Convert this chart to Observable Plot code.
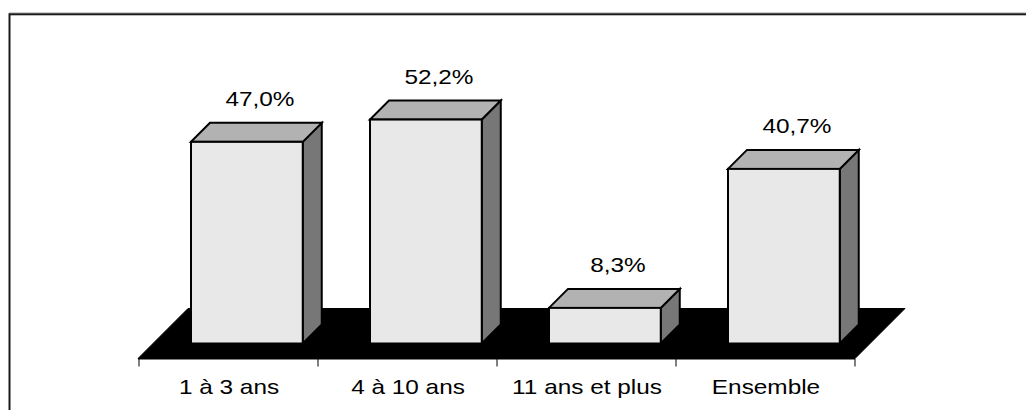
<!DOCTYPE html>
<html><head><meta charset="utf-8">
<script src="https://cdn.jsdelivr.net/npm/d3@7"></script>
<script src="https://cdn.jsdelivr.net/npm/@observablehq/plot@0.6"></script>
<style>
html,body{margin:0;padding:0;background:#fff;overflow:hidden;}
</style></head><body><div id="chart"></div>
<script>
const categories = ["1 à 3 ans", "4 à 10 ans", "11 ans et plus", "Ensemble"];
const values = [47.0, 52.2, 8.3, 40.7];
const valueLabels = ["47,0%", "52,2%", "8,3%", "40,7%"];

const data = categories.map((c, i) => ({category: c, value: values[i], label: valueLabels[i]}));

const DEPTH = 19, LIFT = 15, FLOOR_BACK = 50;
const INSET_L = 52, INSET_R = 15.25;
const TEXT_STRETCH = 1.16;
const NS = "http://www.w3.org/2000/svg";

function poly(g, pts, fill, stroke, sw) {
  const p = document.createElementNS(NS, "polygon");
  p.setAttribute("points", pts.map(d => d.join(",")).join(" "));
  p.setAttribute("fill", fill);
  p.setAttribute("stroke", stroke);
  p.setAttribute("stroke-width", sw);
  p.setAttribute("stroke-linejoin", "miter");
  g.appendChild(p);
}
function line(g, x1, y1, x2, y2, stroke, sw) {
  const l = document.createElementNS(NS, "line");
  l.setAttribute("x1", x1); l.setAttribute("y1", y1);
  l.setAttribute("x2", x2); l.setAttribute("y2", y2);
  l.setAttribute("stroke", stroke); l.setAttribute("stroke-width", sw);
  g.appendChild(l);
}

function floorMark(index, scales) {
  const sx = scales.x, sy = scales.y;
  const g = document.createElementNS(NS, "g");
  const [x0, x1] = sx.range();
  const y0 = sy(0);
  poly(g, [[x0, y0], [x1, y0], [x1 + FLOOR_BACK, y0 - FLOOR_BACK], [x0 + FLOOR_BACK, y0 - FLOOR_BACK]], "#000", "#000", 1);
  const bounds = categories.map(c => sx(c)).concat([x1]);
  for (const b of bounds) line(g, b, y0, b, y0 + 8, "#000", 1);
  return g;
}

function facesMark(index, scales) {
  const sx = scales.x, sy = scales.y;
  const bw = sx.bandwidth();
  const g = document.createElementNS(NS, "g");
  const yb = sy(0) - LIFT;
  data.forEach(d => {
    const xl = sx(d.category) + INSET_L;
    const xr = sx(d.category) + bw - INSET_R;
    const yt = sy(d.value) - LIFT;
    poly(g, [[xr, yt], [xr + DEPTH, yt - DEPTH], [xr + DEPTH, yb - DEPTH], [xr, yb]], "#777777", "#000", 2);
    poly(g, [[xl, yt], [xr, yt], [xr + DEPTH, yt - DEPTH], [xl + DEPTH, yt - DEPTH]], "#b2b2b2", "#000", 2);
  });
  return g;
}

const chart = Plot.plot({
  width: 1026,
  height: 410,
  marginLeft: 138,
  marginRight: 171,
  marginTop: 101.1,
  marginBottom: 51.5,
  style: {fontFamily: "'Liberation Sans', Arial, sans-serif", fontSize: "21px", background: "#fff", color: "#000"},
  x: {domain: categories, padding: 0, axis: null},
  y: {domain: [0, 60], axis: null},
  marks: [
    Plot.frame({stroke: "#a0a0a0", strokeWidth: 1, insetLeft: -129, insetTop: -88.6, insetRight: -200, insetBottom: -100}),
    Plot.frame({stroke: "#1a1a1a", strokeWidth: 2, insetLeft: -129, insetTop: -87.3, insetRight: -200, insetBottom: -100}),
    floorMark,
    Plot.ruleY([0], {stroke: "#000", strokeWidth: 1}),
    facesMark,
    Plot.barY(data, {x: "category", y: "value", fill: "#e8e8e8", stroke: "#000", strokeWidth: 2,
      insetLeft: INSET_L, insetRight: INSET_R, dy: -LIFT}),
    Plot.text(data, {x: "category", y: "value", text: "label", dx: 31, dy: -(LIFT + DEPTH + 17),
      lineAnchor: "bottom", fontSize: 21, fill: "#000"}),
    Plot.axisX({tickSize: 0, tickPadding: 19.6, fontSize: 21, label: null, anchor: "bottom", fill: "#000"})
  ]
});
// the reference's lettering is horizontally stretched
chart.querySelectorAll("text").forEach(t => {
  const tr = t.getAttribute("transform") || "";
  t.setAttribute("transform", (tr + ` scale(${TEXT_STRETCH},1)`).trim());
});
document.getElementById("chart").appendChild(chart);
</script></body></html>
